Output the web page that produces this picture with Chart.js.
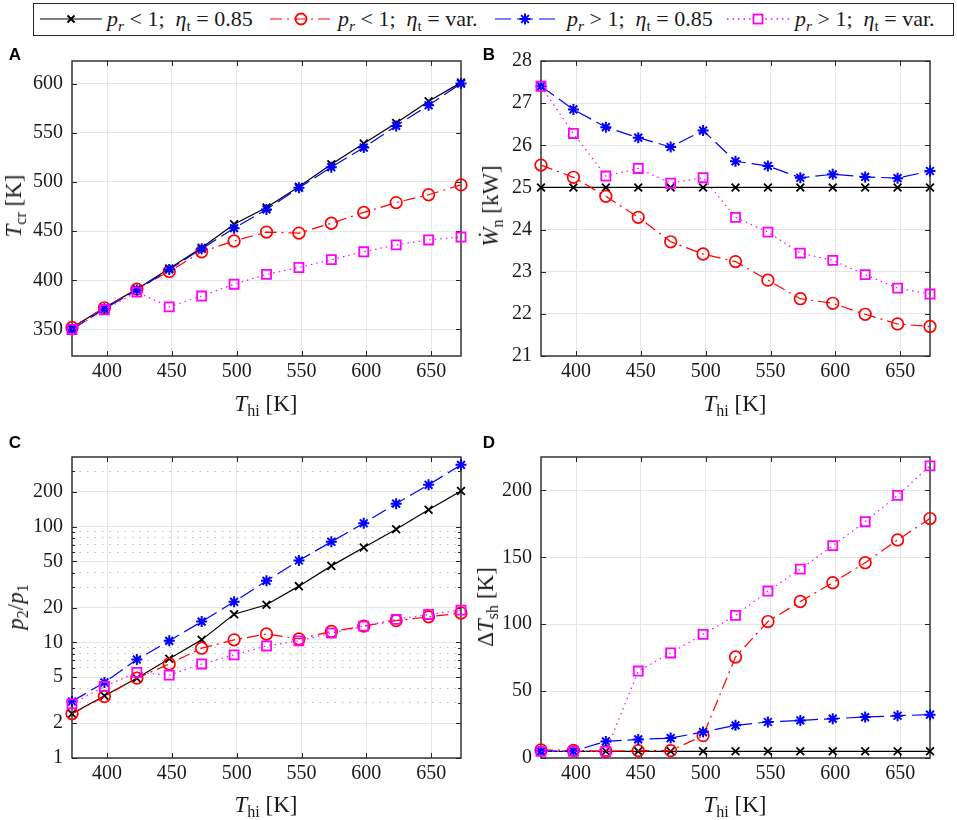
<!DOCTYPE html>
<html>
<head>
<meta charset="utf-8">
<script src="https://cdn.jsdelivr.net/npm/chart.js@4.4.1/dist/chart.umd.min.js"></script>
<style>
  body { margin: 0; background: #fff; width: 957px; height: 820px; position: relative; overflow: hidden;
         font-family: "Liberation Serif", serif; color: #1a1a1a; }
  .panel { position: absolute; }
  canvas { display: block; }
  .letter { position: absolute; font: bold 17px "Liberation Sans", Arial, sans-serif; color: #000; transform: translate(-50%, -50%); }
  .xt, .yt { position: absolute; font-size: 23px; white-space: nowrap; }
  .xt { transform: translate(-50%, -50%); }
  .yt { transform: translate(-50%, -50%) rotate(-90deg); }
  sub { font-size: 70%; vertical-align: -0.3em; line-height: 0; }
  #legendBox { position: absolute; left: 33px; top: 3px; width: 921px; height: 33px; border: 1px solid #262626; box-sizing: border-box; }
  .ic { position: absolute; top: 9px; }
  .lt { position: absolute; top: 19px; transform: translateY(-50%); font-size: 22px; white-space: nowrap; }
</style>
</head>
<body>
<div id="legendBox"></div>
<svg class="ic" style="left:40px" width="62" height="20">
  <line x1="0" y1="10" x2="62" y2="10" stroke="#000" stroke-width="1.1"/>
  <path d="M27.5 6.5 L34.5 13.5 M34.5 6.5 L27.5 13.5" stroke="#000" stroke-width="2"/>
</svg>
<div class="lt" style="left:107px"><i>p<sub>r</sub></i>&nbsp;&lt;&nbsp;1;&ensp;<i>η</i><sub>t</sub>&nbsp;=&nbsp;0.85</div>
<svg class="ic" style="left:270px" width="62" height="20">
  <line x1="0" y1="10" x2="62" y2="10" stroke="#f00" stroke-width="1.1" stroke-dasharray="12 5 2 5"/>
  <circle cx="31" cy="10" r="5.5" fill="none" stroke="#f00" stroke-width="1.8"/>
</svg>
<div class="lt" style="left:338px"><i>p<sub>r</sub></i>&nbsp;&lt;&nbsp;1;&ensp;<i>η</i><sub>t</sub>&nbsp;=&nbsp;var.</div>
<svg class="ic" style="left:495px" width="60" height="20">
  <line x1="0" y1="10" x2="60" y2="10" stroke="#00f" stroke-width="1.1" stroke-dasharray="16 6"/>
  <path d="M30 4.5 L30 15.5 M24.5 10 L35.5 10 M26.1 6.1 L33.9 13.9 M33.9 6.1 L26.1 13.9" stroke="#00f" stroke-width="2"/>
</svg>
<div class="lt" style="left:567px"><i>p<sub>r</sub></i>&nbsp;&gt;&nbsp;1;&ensp;<i>η</i><sub>t</sub>&nbsp;=&nbsp;0.85</div>
<svg class="ic" style="left:727px" width="62" height="20">
  <line x1="0" y1="10" x2="62" y2="10" stroke="#f0f" stroke-width="1.4" stroke-dasharray="1.5 4"/>
  <rect x="26.5" y="5.5" width="9" height="9" fill="#fff" stroke="#f0f" stroke-width="1.8"/>
</svg>
<div class="lt" style="left:795px"><i>p<sub>r</sub></i>&nbsp;&gt;&nbsp;1;&ensp;<i>η</i><sub>t</sub>&nbsp;=&nbsp;var.</div>

<div class="panel" style="left:0;top:40px"><canvas id="cA" width="478" height="380"></canvas></div>
<div class="panel" style="left:477px;top:40px"><canvas id="cB" width="478" height="380"></canvas></div>
<div class="panel" style="left:0;top:430px"><canvas id="cC" width="478" height="390"></canvas></div>
<div class="panel" style="left:477px;top:430px"><canvas id="cD" width="478" height="390"></canvas></div>

<div class="letter" style="left:15px;top:55px">A</div>
<div class="letter" style="left:489px;top:55px">B</div>
<div class="letter" style="left:15px;top:443px">C</div>
<div class="letter" style="left:489px;top:443px">D</div>

<div class="xt" style="left:266px;top:404px"><i>T</i><sub>hi</sub> [K]</div>
<div class="xt" style="left:735px;top:404px"><i>T</i><sub>hi</sub> [K]</div>
<div class="xt" style="left:266px;top:805px"><i>T</i><sub>hi</sub> [K]</div>
<div class="xt" style="left:735px;top:805px"><i>T</i><sub>hi</sub> [K]</div>
<div class="yt" style="left:14px;top:206px"><i>T</i><sub>cr</sub> [K]</div>
<div class="yt" style="left:491px;top:206px"><i>Ẇ</i><sub>n</sub> [kW]</div>
<div class="yt" style="left:16px;top:607px"><i>p</i><sub>2</sub>/<i>p</i><sub>1</sub></div>
<div class="yt" style="left:486px;top:607px">Δ<i>T</i><sub>sh</sub> [K]</div>

<script>
// hot inlet temperature [K]
const thi = [373, 398, 423, 448, 473, 498, 523, 548, 573, 598, 623, 648, 673];
const xTicks = [400, 450, 500, 550, 600, 650];

// A: T_cr [K]
const aBlack = [352, 372, 391, 412, 433, 457, 474, 495, 518, 539, 560, 582, 601];
const aRed   = [352, 372, 391, 409, 429, 440, 449, 448, 458, 469, 479, 487, 497];
const aBlue  = [350, 371, 390, 411, 432, 453, 472, 494, 515, 535, 557, 578, 600];
const aMag   = [350, 370, 388, 373, 384, 396, 406, 413, 421, 429, 436, 441, 444];
const aTicks = [350, 400, 450, 500, 550, 600];

// B: W_n [kW]
const bBlack = [25, 25, 25, 25, 25, 25, 25, 25, 25, 25, 25, 25, 25];
const bRed   = [25.53, 25.24, 24.79, 24.29, 23.71, 23.42, 23.24, 22.80, 22.36, 22.25, 21.99, 21.76, 21.70];
const bBlue  = [27.40, 26.85, 26.43, 26.18, 25.96, 26.35, 25.62, 25.51, 25.23, 25.31, 25.25, 25.22, 25.39];
const bMag   = [27.40, 26.28, 25.27, 25.45, 25.10, 25.23, 24.29, 23.94, 23.44, 23.27, 22.93, 22.61, 22.47];
const bTicks = [21, 22, 23, 24, 25, 26, 27, 28];

// C: p2/p1 (log)
const cBlack = [2.41, 3.45, 4.9, 7.2, 10.5, 17.5, 21.1, 30.6, 45.8, 66, 95, 140, 203];
const cRed   = [2.41, 3.40, 4.9, 6.5, 8.9, 10.5, 11.8, 10.7, 12.4, 13.8, 15.4, 16.6, 17.9];
const cBlue  = [3.08, 4.5, 7.1, 10.3, 15.1, 22.4, 34, 51, 74, 107, 158, 230, 342];
const cMag   = [2.94, 4.15, 5.5, 5.2, 6.5, 7.8, 9.3, 10.3, 12.0, 13.8, 15.8, 17.4, 19.0];
const cTicks = [1, 2, 3, 4, 5, 6, 7, 8, 9, 10, 20, 30, 40, 50, 60, 70, 80, 90, 100, 200, 300];
const cLabeled = [1, 2, 5, 10, 20, 50, 100, 200];

// D: superheat [K]
const dBlack = [5, 5, 5, 5, 5, 5, 5, 5, 5, 5, 5, 5, 5];
const dRed   = [6, 5.7, 5, 5.5, 5.5, 16.7, 75.5, 102, 117, 131, 146, 163, 179];
const dBlue  = [5, 5.2, 12.4, 13.9, 14.9, 19.4, 24.4, 26.9, 28.1, 29.4, 30.6, 31.6, 32.4];
const dMag   = [5, 5, 5, 65, 78.5, 92.4, 106.6, 124.8, 141.2, 158.7, 176.6, 196.3, 218.4];
const dTicks = [0, 50, 100, 150, 200];

const styles = [
  { color: "#000000", dash: [], point: "crossRot", r: 5.5, pw: 1.8, order: 3 },
  { color: "#ff0000", dash: [12, 5, 2, 5], point: "circle", r: 5.8, pw: 1.7, order: 2 },
  { color: "#0000ff", dash: [16, 6], point: "star", r: 5.5, pw: 2, order: 1 },
  { color: "#ff00ff", dash: [1.5, 4], point: "rect", r: 6.4, pw: 1.8, order: 0 },
];

const tickFont = { family: "Liberation Serif", size: 20 };

// box + inward tick marks, drawn under the data like MATLAB
const framePlugin = {
  id: "frame",
  beforeDatasetsDraw(chart) {
    const { ctx, chartArea: a, scales: { x, y } } = chart;
    ctx.save();
    ctx.strokeStyle = "#262626";
    ctx.lineWidth = 1;
    ctx.beginPath();
    x.ticks.forEach((t) => {
      const px = Math.round(x.getPixelForValue(t.value)) + 0.5;
      ctx.moveTo(px, a.bottom); ctx.lineTo(px, a.bottom - 5);
      ctx.moveTo(px, a.top); ctx.lineTo(px, a.top + 5);
    });
    y.ticks.forEach((t) => {
      const py = Math.round(y.getPixelForValue(t.value)) + 0.5;
      const len = y.type === "logarithmic" && !cLabeled.includes(t.value) ? 3 : 5;
      ctx.moveTo(a.left, py); ctx.lineTo(a.left + len, py);
      ctx.moveTo(a.right, py); ctx.lineTo(a.right - len, py);
    });
    ctx.stroke();
    ctx.lineWidth = 1.4;
    ctx.strokeRect(a.left, a.top, a.right - a.left, a.bottom - a.top);
    ctx.restore();
  },
};

function makePanel(id, series, yCfg, box) {
  const datasets = series.map((vals, i) => {
    const s = styles[i];
    return {
      data: vals,
      borderColor: s.color,
      borderWidth: 1.2,
      borderDash: s.dash,
      pointStyle: s.point,
      pointRadius: s.r,
      pointBorderWidth: s.pw,
      pointBorderColor: s.color,
      pointBackgroundColor: "rgba(0,0,0,0)",
      order: s.order,
      clip: false,
      tension: 0,
    };
  });
  new Chart(document.getElementById(id), {
    type: "line",
    data: { labels: thi, datasets },
    plugins: [framePlugin],
    options: {
      responsive: false,
      animation: false,
      layout: { padding: { top: box.top, right: box.right, left: 0, bottom: 0 } },
      plugins: { legend: { display: false }, tooltip: { enabled: false } },
      scales: {
        x: {
          type: "linear",
          min: 373,
          max: 673,
          afterBuildTicks: (sc) => { sc.ticks = xTicks.map((v) => ({ value: v })); },
          afterFit: (sc) => { sc.height = box.xh; },
          ticks: { font: tickFont, color: "#1a1a1a", padding: 4, autoSkip: false, maxRotation: 0 },
          grid: { color: "#e6e6e6", drawTicks: false },
          border: { display: false },
        },
        y: Object.assign({
          afterFit: (sc) => { sc.width = box.yw; },
          grid: { color: "#e6e6e6", drawTicks: false },
          border: { display: false },
        }, yCfg),
      },
    },
  });
}

function linY(min, max, ticks) {
  return {
    type: "linear",
    min, max,
    afterBuildTicks: (sc) => { sc.ticks = ticks.map((v) => ({ value: v })); },
    ticks: { font: tickFont, color: "#1a1a1a", padding: 9, autoSkip: false },
  };
}

makePanel("cA", [aBlack, aRed, aBlue, aMag], linY(323, 623, aTicks), { top: 16, right: 17, xh: 64, yw: 72 });
makePanel("cB", [bBlack, bRed, bBlue, bMag], linY(21, 28, bTicks), { top: 16, right: 25, xh: 64, yw: 64 });
makePanel("cC", [cBlack, cRed, cBlue, cMag], {
  type: "logarithmic",
  min: 1,
  max: 400,
  afterBuildTicks: (sc) => { sc.ticks = cTicks.map((v) => ({ value: v })); },
  ticks: {
    font: tickFont, color: "#1a1a1a", padding: 9, autoSkip: false,
    callback: (v) => (cLabeled.includes(v) ? String(v) : ""),
  },
  grid: {
    drawTicks: false,
    color: (c) => (c.tick && !cLabeled.includes(c.tick.value) ? "#bdbdbd" : "#e6e6e6"),
  },
  border: {
    display: false,
    dash: (c) => (c.tick && !cLabeled.includes(c.tick.value) ? [1.5, 6] : []),
  },
}, { top: 27, right: 17, xh: 62, yw: 72 });
makePanel("cD", [dBlack, dRed, dBlue, dMag], linY(0, 225, dTicks), { top: 27, right: 25, xh: 62, yw: 64 });
</script>
</body>
</html>
